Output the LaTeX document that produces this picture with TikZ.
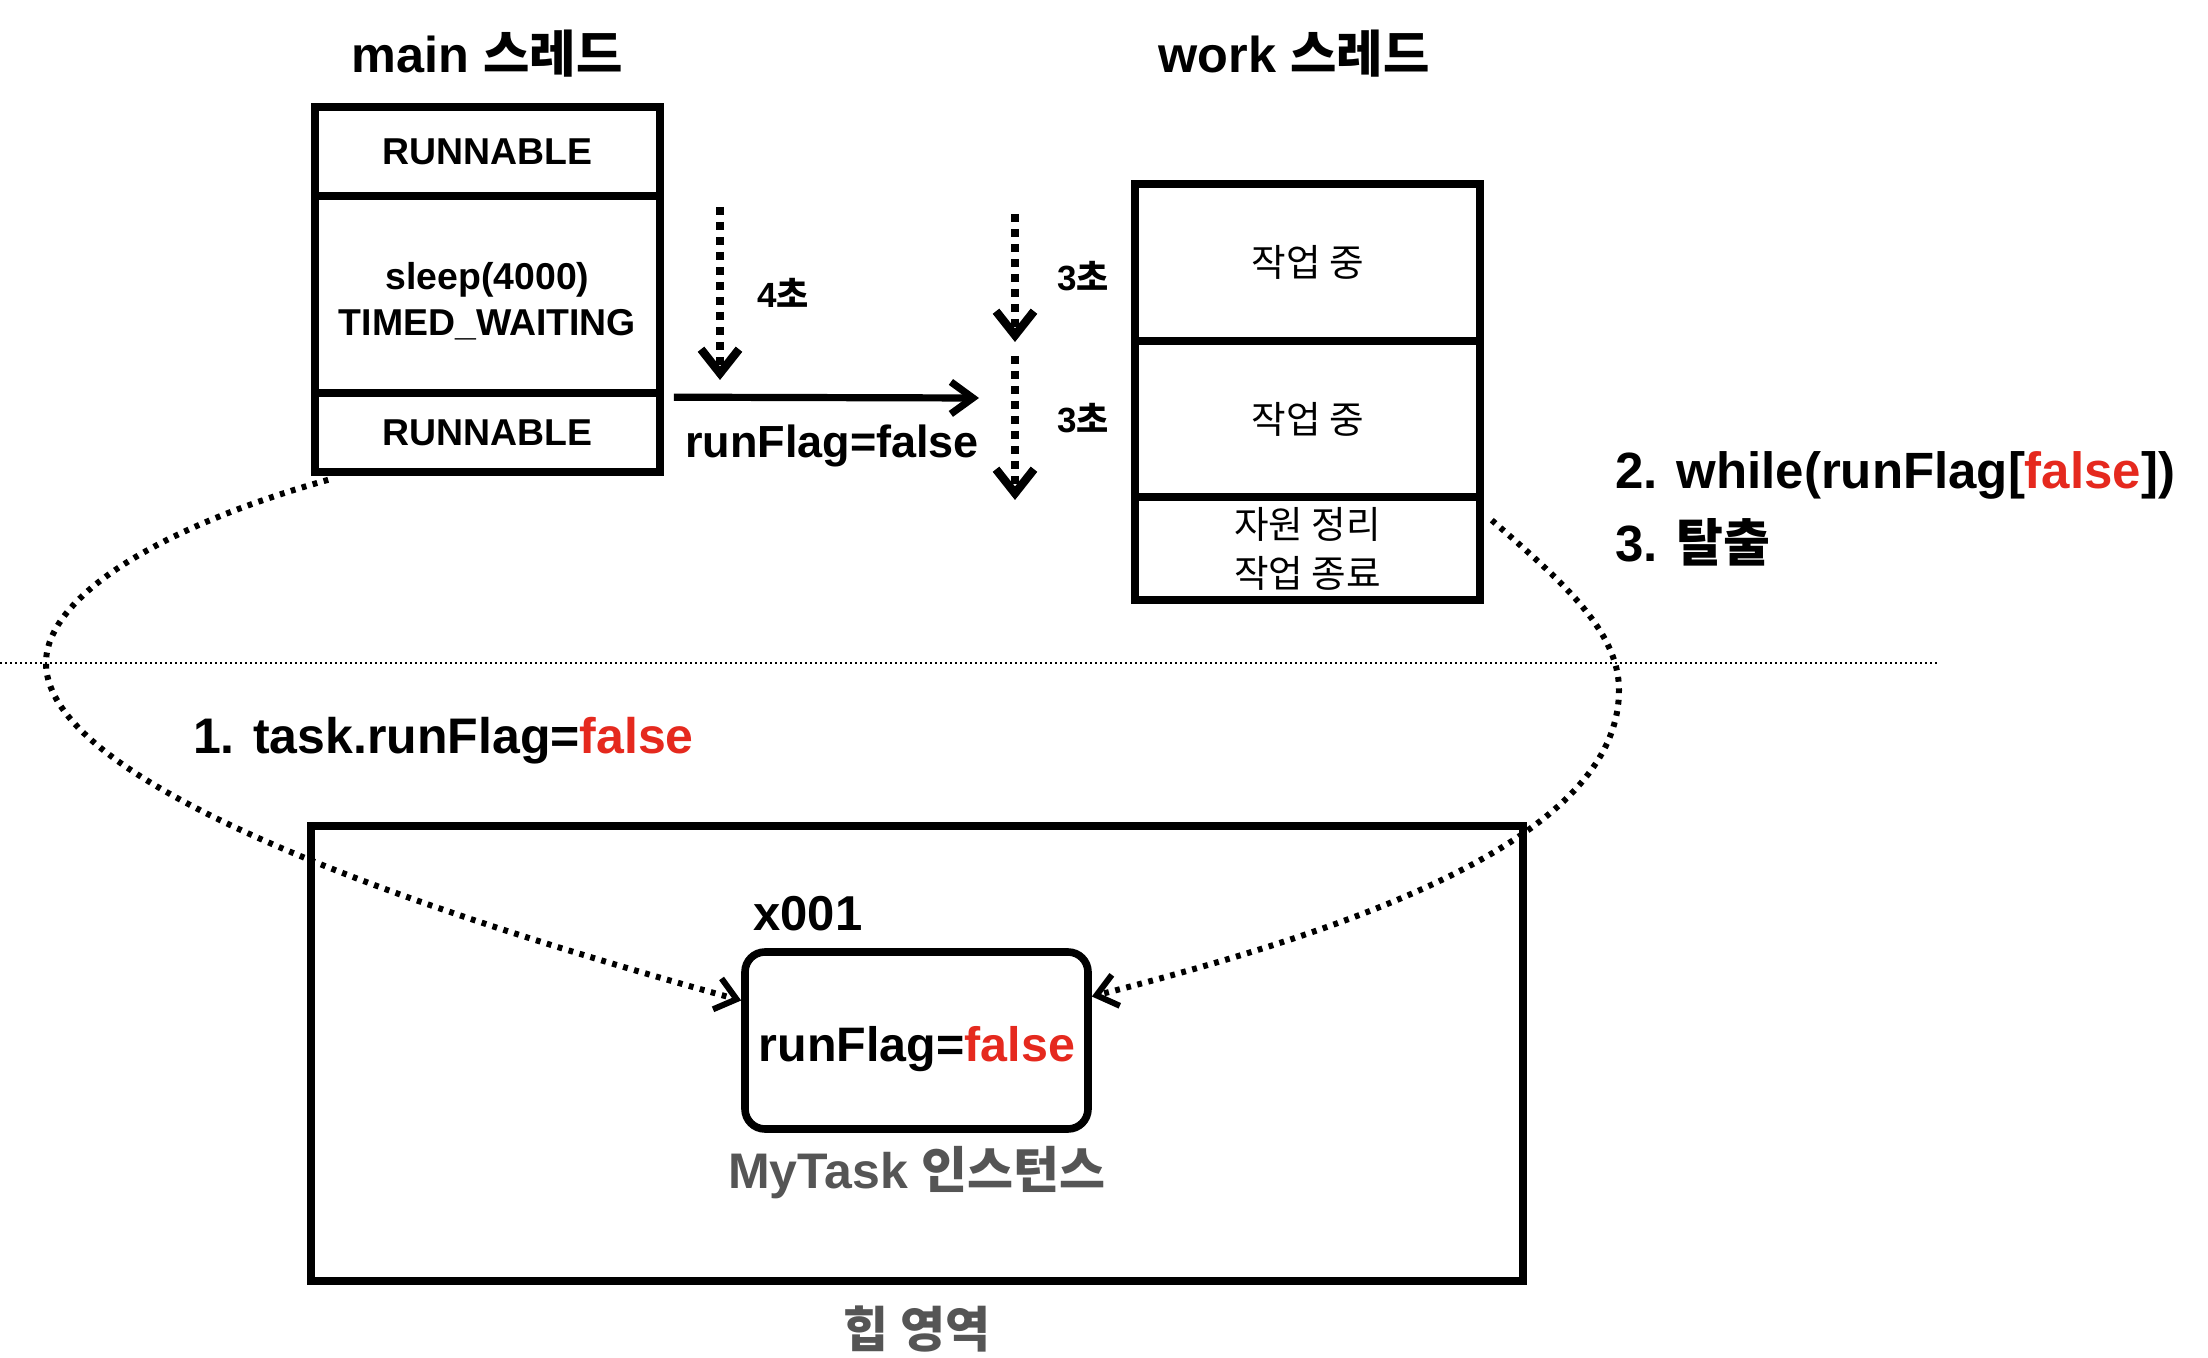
\documentclass[tikz,border=0pt]{standalone}
\usepackage{fontspec}
\setmainfont{Liberation Sans}
\newfontfamily\kr{Noto Sans CJK KR}
\usetikzlibrary{arrows.meta,calc}
\definecolor{fred}{HTML}{E5291E}
\definecolor{fgray}{HTML}{555555}
\tikzset{
  cell/.style={draw, line width=3.8pt, minimum width=172.5pt, inner sep=0pt, align=center,
    font=\bfseries\fontsize{18.7}{23}\selectfont},
  wcell/.style={draw, line width=3.8pt, minimum width=172.5pt, inner sep=0pt, align=center,
    font=\kr\fontsize{18.8}{24.5}\selectfont},
  titletext/.style={font=\bfseries\fontsize{25.2}{28}\selectfont},
  secs/.style={font=\bfseries\fontsize{17.5}{20}\selectfont},
  bigtext/.style={font=\bfseries\fontsize{25.5}{30}\selectfont},
  tick/.style={line width=4.2pt, dash pattern=on 4pt off 3.5pt,
    -{Straight Barb[length=12pt,width=19pt,line width=0pt 1]}},
  solidarrow/.style={line width=3.6pt, -{Straight Barb[length=11pt,width=16pt,line width=0pt 1]}},
  curve/.style={line width=3pt, dash pattern=on 2.4pt off 3.3pt,
    -{Straight Barb[length=10pt,width=16pt,line width=0pt 1]}},
  sep/.style={line width=1.1pt, dash pattern=on 1.2pt off 1.3pt}
}
\begin{document}
\begin{tikzpicture}[x=0.5pt,y=-0.5pt]
\useasboundingbox (0,0) rectangle (2208,1358);

% titles
\node[titletext] (tmain) at (487,54) {main {\kr\bfseries 스레드}};
\node[titletext] (twork) at (1294,54) {work {\kr\bfseries 스레드}};

% main thread
\node[cell, minimum height=44.5pt] (m1) at (487.5,151.5) {RUNNABLE};
\node[cell, minimum height=98.5pt] (m2) at (487.5,294.5) {};
\node[cell, draw=none] (m2t) at (487.5,301) {sleep(4000)\\TIMED\_WAITING};
\node[cell, minimum height=39.5pt] (m3) at (487.5,432.5) {RUNNABLE};

% work thread
\node[wcell, minimum height=78.5pt] (w1) at (1307.5,262.5) {작업 중};
\node[wcell, minimum height=78pt] (w2) at (1307.5,419) {작업 중};
\node[wcell, minimum height=51.5pt] (w3) at (1307.5,548.5) {자원 정리\\작업 종료};

% time arrows
\coordinate (a4s) at (720,207);
\coordinate (a4e) at (720,380);
\draw[tick] (a4s) -- (a4e);
\node[secs] (l4) at (783,293) {4{\kr\bfseries 초}};

\coordinate (b1s) at (1015,214);
\coordinate (b1e) at (1015,342);
\coordinate (b2s) at (1015,356);
\coordinate (b2e) at (1015,500);
\draw[tick] (b1s) -- (b1e);
\draw[tick] (b2s) -- (b2e);
\node[secs] (l3a) at (1083,276) {3{\kr\bfseries 초}};
\node[secs] (l3b) at (1083,418) {3{\kr\bfseries 초}};

% runFlag arrow
\coordinate (rfe) at (979,398);
\draw[solidarrow] ($(m3.north east)+(10,8)$) -- (rfe);
\node[font=\bfseries\fontsize{22.5}{26}\selectfont] (rfl) at (832,446) {runFlag=false};

% right notes
\node[bigtext, anchor=west] (n2) at (1608,475) {2. while(runFlag[\textcolor{fred}{false}])};
\node[bigtext, anchor=west] (n3) at (1608,542) {3. {\kr\bfseries 탈출}};

% separator
\coordinate (sepl) at (0,663);
\coordinate (sepr) at (1939,663);
\draw[sep] (sepl) -- (sepr);

% step 1 label
\node[bigtext, font=\bfseries\fontsize{25}{30}\selectfont, anchor=west] (n1) at (186,741) {1. task.runFlag=\textcolor{fred}{false}};

% heap
\node[draw, line width=3.6pt, minimum width=606pt, minimum height=227.5pt, inner sep=0pt] (heap) at (917,1053.5) {};
\node[font=\kr\bfseries\fontsize{24.5}{28}\selectfont, text=fgray] (heapl) at (917,1329) {힙 영역};

% object
\node[draw, line width=3.8pt, rounded corners=10pt, minimum width=171.5pt, minimum height=88.5pt,
  inner sep=0pt] (obj) at (916.5,1040.5) {};
\node[font=\bfseries\fontsize{24.2}{28}\selectfont] (objt) at (917,1049) {runFlag=\textcolor{fred}{false}};
\node[font=\bfseries\fontsize{24.5}{28}\selectfont] (x001) at (808,914) {x001};
\node[font=\bfseries\fontsize{25}{28}\selectfont, text=fgray] (objl) at (917,1173) {MyTask {\kr\bfseries 인스턴스}};

% dotted curves
\draw[curve] ($(m3.south west)+(17,4)$) .. controls (150,530) and (46,600) .. (46,663)
  .. controls (46,790) and (450,920) .. ([yshift=20pt]obj.west);
\draw[curve] ($(w3.north east)+(8,27)$) .. controls (1560,580) and (1619,630) .. (1619,690)
  .. controls (1619,840) and (1350,930) .. ([yshift=22pt]obj.east);
\end{tikzpicture}
\end{document}
